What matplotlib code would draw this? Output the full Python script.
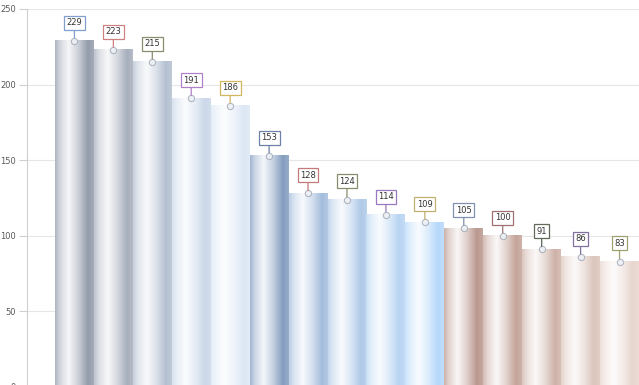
import numpy as np
import matplotlib
matplotlib.use('Agg')
import matplotlib.pyplot as plt
from matplotlib.colors import to_rgb

# Values
values = [229, 223, 215, 191, 186, 153, 128, 124, 114, 109, 105, 100, 91, 86, 83]
bar_colors = ['#8e97a7', '#a3abb9', '#b0bdcf', '#c8d6e8', '#dae6f4',
              '#7d98bc', '#a0badb', '#aac6e6', '#b4d2f2', '#b2d6fb',
              '#b69288', '#c19f95', '#ccaea4', '#d9c1b8', '#e6d3cb']
label_edges = ['#7f9fcf', '#cf8080', '#8a8a6c', '#b080c8', '#d2b65e',
               '#6f80a8', '#c47a7a', '#8a8a6c', '#9a78c0', '#c0b070',
               '#8090b0', '#a07070', '#606858', '#8070a0', '#a0a070']
yticks = [0, 50, 100, 150, 200, 250]

fig = plt.figure(figsize=(6.39, 3.85), dpi=100)
ax = fig.add_axes([27 / 639, -2 / 385, 1 - 27 / 639, 378 / 385])

# cylinder-like horizontal shading: amount of white mixed into the base colour
t = np.linspace(0, 1, 60)
white_amt = np.interp(t, [0, 0.12, 0.35, 0.6, 0.85, 1.0], [0.3, 0.6, 0.92, 0.55, 0.05, 0.2])

for i, (v, c) in enumerate(zip(values, bar_colors)):
    base = np.array(to_rgb(c))
    grad = base[None, :] * (1 - white_amt[:, None]) + white_amt[:, None]
    ax.imshow(grad[None, :, :], extent=(i - 0.5, i + 0.5, 0, v), aspect='auto',
              interpolation='bilinear', zorder=2)

for i, (v, ec) in enumerate(zip(values, label_edges)):
    ax.plot(i, v, 'o', ms=4.5, mfc='#eef1f5', mec='#a4acba', mew=0.8, alpha=0.85, zorder=4)
    ax.annotate(str(v), xy=(i, v), xytext=(0, 13), textcoords='offset points',
                ha='center', va='center', fontsize=6, color='#333333',
                bbox=dict(boxstyle='square,pad=0.3', fc='white', ec=ec, lw=0.9),
                arrowprops=dict(arrowstyle='-', color=ec, lw=0.9, shrinkA=0, shrinkB=2),
                zorder=5)

ax.set_xlim(-0.5 - 28 / 39, 14.5)
ax.set_ylim(0, 250)
ax.set_yticks(yticks)
ax.yaxis.grid(True, color='#e6e6e6', lw=0.8, zorder=0)
ax.set_axisbelow(True)
ax.set_xticks([])
for s in ['top', 'right', 'bottom']:
    ax.spines[s].set_visible(False)
ax.spines['left'].set_color('#d0d0d0')
ax.tick_params(axis='y', length=6, color='#d0d0d0', labelsize=6, labelcolor='#595959', pad=2)

fig.savefig('out.png', dpi=100)
